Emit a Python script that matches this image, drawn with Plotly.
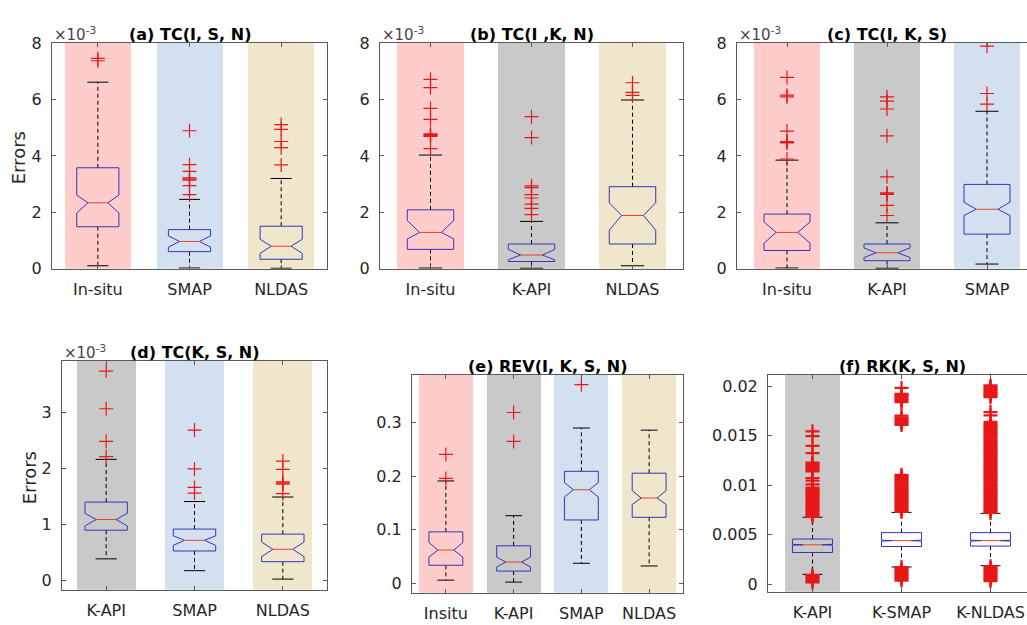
import plotly.graph_objects as go

W, H = 1027, 625

# ---------------- DATA ----------------
# (a) TC(I, S, N)   values in units of 1e-3
cats_a = ["In-situ", "SMAP", "NLDAS"]
q1_a = [1.49, 0.61, 0.34]
med_a = [2.34, 0.97, 0.80]
q3_a = [3.58, 1.39, 1.51]
nlo_a = [1.98, 0.77, 0.55]
nhi_a = [2.61, 1.17, 1.05]
wlo_a = [0.11, 0.03, 0.02]
whi_a = [6.61, 2.46, 3.20]
out_a = [[7.45, 7.37],
         [4.89, 3.69, 3.45, 3.22, 3.18, 3.14, 2.95, 2.63],
         [5.11, 4.94, 4.51, 4.29, 3.68]]

# (b) TC(I ,K, N)   values in units of 1e-3
cats_b = ["In-situ", "K-API", "NLDAS"]
q1_b = [0.69, 0.26, 0.88]
med_b = [1.29, 0.49, 1.89]
q3_b = [2.09, 0.88, 2.91]
nlo_b = [1.06, 0.32, 1.37]
nhi_b = [1.71, 0.69, 2.34]
wlo_b = [0.03, 0.02, 0.11]
whi_b = [4.03, 1.68, 5.98]
out_b = [[6.71, 6.42, 5.68, 5.29, 4.78, 4.75, 4.72, 4.69, 4.26],
         [5.39, 4.65, 2.94, 2.88, 2.63, 2.51, 2.29, 2.14, 1.92],
         [6.59, 6.25, 6.14]]

# (c) TC(I, K, S)   values in units of 1e-3
cats_c = ["In-situ", "K-API", "SMAP"]
q1_c = [0.65, 0.29, 1.23]
med_c = [1.29, 0.57, 2.11]
q3_c = [1.94, 0.88, 2.99]
nlo_c = [0.91, 0.40, 1.89]
nhi_c = [1.66, 0.74, 2.36]
wlo_c = [0.03, 0.02, 0.17]
whi_c = [3.85, 1.63, 5.58]
out_c = [[6.78, 6.15, 6.09, 4.88, 4.51, 4.48, 4.46, 3.89],
         [6.09, 5.94, 5.66, 4.71, 3.26, 2.69, 2.66, 2.64, 2.25, 1.89],
         [7.89, 6.21, 5.83]]

# (d) TC(K, S, N)   values in units of 1e-3
cats_d = ["K-API", "SMAP", "NLDAS"]
q1_d = [0.90, 0.53, 0.34]
med_d = [1.09, 0.72, 0.56]
q3_d = [1.40, 0.92, 0.83]
nlo_d = [0.975, 0.63, 0.43]
nhi_d = [1.20, 0.80, 0.69]
wlo_d = [0.39, 0.18, 0.03]
whi_d = [2.16, 1.41, 1.49]
out_d = [[3.73, 3.06, 2.48, 2.21],
         [2.68, 1.99, 1.66, 1.56],
         [2.13, 1.98, 1.76, 1.74, 1.72, 1.55]]

# (e) REV(I, K, S, N)
cats_e = ["Insitu", "K-API", "SMAP", "NLDAS"]
q1_e = [0.0333, 0.0224, 0.118, 0.123]
med_e = [0.0618, 0.0394, 0.1745, 0.159]
q3_e = [0.0958, 0.0697, 0.209, 0.2055]
nlo_e = [0.0485, 0.030, 0.161, 0.147]
nhi_e = [0.0758, 0.0485, 0.188, 0.173]
wlo_e = [0.0055, 0.0018, 0.037, 0.032]
whi_e = [0.191, 0.126, 0.290, 0.286]
out_e = [[0.2406, 0.1958], [0.319, 0.265], [0.371], []]

# (f) RK(K, S, N)   values in units of 1e-3 (converted to raw for plotting)
cats_f = ["K-API", "K-SMAP", "K-NLDAS"]
q1_f_milli = [3.19, 3.80, 3.84]
med_f_milli = [3.97, 4.39, 4.39]
q3_f_milli = [4.55, 5.20, 5.20]
nlo_f_milli = [3.92, 4.34, 4.34]
nhi_f_milli = [4.02, 4.44, 4.44]
wlo_f_milli = [0.98, 1.72, 1.85]
whi_f_milli = [6.76, 7.25, 7.15]
out_kapi_milli = [6.8, 6.95, 7.1, 7.25, 7.4, 7.55, 7.7, 7.85, 8.0, 8.15, 8.3, 8.45,
                  8.6, 8.75, 8.9, 9.05, 9.2, 9.35, 9.5, 9.6, 9.76, 10.08, 10.47, 10.73,
                  11.4, 11.55, 11.7, 11.85, 12.0, 12.15, 12.3, 13.24, 13.98, 14.96, 15.45,
                  0.16, 0.3, 0.45, 0.6, 0.75, 0.9]
out_ksmap_milli = [7.3, 7.45, 7.6, 7.75, 7.9, 8.05, 8.2, 8.35, 8.5, 8.65, 8.8, 8.95,
                   9.1, 9.25, 9.4, 9.55, 9.7, 9.85, 10.0, 10.15, 10.3, 10.45, 10.6, 10.75,
                   10.9, 11.05, 16.1, 16.25, 16.4, 16.55, 16.7, 16.85, 17.05,
                   18.4, 18.55, 18.7, 18.85, 19.0, 19.15, 19.25, 19.85,
                   0.35, 0.5, 0.65, 0.8, 0.95, 1.1, 1.25, 1.4, 1.55, 1.7]
out_knldas_milli = [7.2, 7.35, 7.5, 7.65, 7.8, 7.95, 8.1, 8.25, 8.4, 8.55, 8.7, 8.85,
                    9.0, 9.15, 9.3, 9.45, 9.6, 9.75, 9.9, 10.05, 10.2, 10.35, 10.5, 10.65,
                    10.8, 10.95, 11.1, 11.25, 11.4, 11.55, 11.7, 11.85, 12.0, 12.15, 12.3,
                    12.45, 12.6, 12.75, 12.9, 13.05, 13.2, 13.35, 13.5, 13.65, 13.8, 13.95,
                    14.1, 14.25, 14.4, 14.55, 14.7, 14.85, 15.0, 15.15, 15.3, 15.45, 15.6,
                    15.75, 15.9, 16.05, 16.2, 16.4, 17.07, 17.4,
                    18.9, 19.05, 19.2, 19.35, 19.5, 19.65, 19.8, 19.95, 20.1,
                    0.3, 0.45, 0.6, 0.75, 0.9, 1.05, 1.2, 1.35, 1.5, 1.65, 1.8]
out_f_milli = [out_kapi_milli, out_ksmap_milli, out_knldas_milli]

MILLI = 1e-3


def to_raw(lst):
    return [v * MILLI for v in lst]


# ---------------- STYLE ----------------
PINK = "rgb(255,204,204)"
BLUE = "rgb(211,224,239)"
GRAY = "rgb(201,201,201)"
TAN = "rgb(239,230,203)"
RED = "rgb(232,24,24)"
BOXC = "rgb(52,52,190)"
MEDC = "rgb(236,64,40)"
AXC = "rgb(90,90,90)"
TXT = "rgb(38,38,38)"
FONT = "DejaVu Sans"

panels = [
    dict(cats=cats_a, q1=q1_a, med=med_a, q3=q3_a, nlo=nlo_a, nhi=nhi_a, wlo=wlo_a, whi=whi_a, out=out_a,
         bg=[PINK, BLUE, TAN], title="(a) TC(I, S, N)", tc=189.5, exp=True, ylab=(18.5, 153.5),
         l=52, r=327, t=35, b=268, xr=[0.5, 3.5], yr=[0, 8], yt=[0, 2, 4, 6, 8],
         ytt=["0", "2", "4", "6", "8"], bw=0.72, hw=0.23, right=True, mw=1.2),
    dict(cats=cats_b, q1=q1_b, med=med_b, q3=q3_b, nlo=nlo_b, nhi=nhi_b, wlo=wlo_b, whi=whi_b, out=out_b,
         bg=[PINK, GRAY, TAN], title="(b) TC(I ,K, N)", tc=531.5, exp=True, ylab=None,
         l=380, r=683, t=35, b=268, xr=[0.5, 3.5], yr=[0, 8], yt=[0, 2, 4, 6, 8],
         ytt=["0", "2", "4", "6", "8"], bw=0.66, hw=0.23, right=True, mw=1.2),
    dict(cats=cats_c, q1=q1_c, med=med_c, q3=q3_c, nlo=nlo_c, nhi=nhi_c, wlo=wlo_c, whi=whi_c, out=out_c,
         bg=[PINK, GRAY, BLUE], title="(c) TC(I, K, S)", tc=887, exp=True, ylab=None,
         l=737, r=1027, t=35, b=268, xr=[0.5, 3.4], yr=[0, 8], yt=[0, 2, 4, 6, 8],
         ytt=["0", "2", "4", "6", "8"], bw=0.66, hw=0.23, right=False, mw=1.2),
    dict(cats=cats_d, q1=q1_d, med=med_d, q3=q3_d, nlo=nlo_d, nhi=nhi_d, wlo=wlo_d, whi=whi_d, out=out_d,
         bg=[GRAY, BLUE, TAN], title="(d) TC(K, S, N)", tc=195, exp=True, ylab=(29, 484),
         l=62, r=327, t=363, b=599, xr=[0.5, 3.5], yr=[-0.16, 3.91], yt=[0, 1, 2, 3],
         ytt=["0", "1", "2", "3"], bw=0.67, hw=0.24, right=True, mw=1.2),
    dict(cats=cats_e, q1=q1_e, med=med_e, q3=q3_e, nlo=nlo_e, nhi=nhi_e, wlo=wlo_e, whi=whi_e, out=out_e,
         bg=[PINK, GRAY, BLUE, TAN], title="(e) REV(I, K, S, N)", tc=547.5, exp=False, ylab=None,
         l=412, r=683, t=377, b=602, xr=[0.5, 4.5], yr=[-0.018, 0.39], yt=[0, 0.1, 0.2, 0.3],
         ytt=["0", "0.1", "0.2", "0.3"], bw=0.8, hw=0.25, right=True, mw=1.2),
    dict(cats=cats_f, q1=to_raw(q1_f_milli), med=to_raw(med_f_milli), q3=to_raw(q3_f_milli),
         nlo=to_raw(nlo_f_milli), nhi=to_raw(nhi_f_milli), wlo=to_raw(wlo_f_milli), whi=to_raw(whi_f_milli),
         out=[to_raw(o) for o in out_f_milli],
         bg=[GRAY, None, None], title="(f) RK(K, S, N)", tc=902, exp=False, ylab=None,
         l=768, r=1027, t=377, b=601, xr=[0.5, 3.41], yr=[-0.00078, 0.0212],
         yt=[0, 0.005, 0.01, 0.015, 0.02], ytt=["0", "0.005", "0.01", "0.015", "0.02"],
         bw=0.62, hw=0.225, right=False, mw=2.2),
]

fig = go.Figure()
annotations = []
layout_axes = {}

for i, p in enumerate(panels, start=1):
    xa = "x" if i == 1 else f"x{i}"
    ya = "y" if i == 1 else f"y{i}"
    n = len(p["cats"])
    pos = list(range(1, n + 1))
    ylo, yhi = p["yr"]

    # background bars
    bx = [pos[j] for j in range(n) if p["bg"][j]]
    bc = [p["bg"][j] for j in range(n) if p["bg"][j]]
    fig.add_trace(go.Bar(x=bx, y=[yhi - ylo] * len(bx), base=ylo, width=p["bw"],
                         marker=dict(color=bc, line=dict(width=0)),
                         xaxis=xa, yaxis=ya, hoverinfo="skip", showlegend=False))

    w = p["hw"]
    wn = w * 0.47
    wc = w * 0.5
    for j in range(n):
        c = pos[j]
        q1, med, q3 = p["q1"][j], p["med"][j], p["q3"][j]
        nlo, nhi = p["nlo"][j], p["nhi"][j]
        lo, hi = p["wlo"][j], p["whi"][j]
        # whiskers (dashed)
        fig.add_trace(go.Scatter(x=[c, c, None, c, c], y=[q3, hi, None, q1, lo], mode="lines",
                                 line=dict(color="black", width=1, dash="4px,3px"),
                                 xaxis=xa, yaxis=ya, hoverinfo="skip", showlegend=False))
        # caps
        fig.add_trace(go.Scatter(x=[c - wc, c + wc, None, c - wc, c + wc], y=[hi, hi, None, lo, lo],
                                 mode="lines", line=dict(color="black", width=1),
                                 xaxis=xa, yaxis=ya, hoverinfo="skip", showlegend=False))
        # notched box
        fig.add_trace(go.Scatter(
            x=[c - w, c - w, c - wn, c - w, c - w, c + w, c + w, c + wn, c + w, c + w, c - w],
            y=[q1, nlo, med, nhi, q3, q3, nhi, med, nlo, q1, q1],
            mode="lines", line=dict(color=BOXC, width=1),
            xaxis=xa, yaxis=ya, hoverinfo="skip", showlegend=False))
        # median
        fig.add_trace(go.Scatter(x=[c - wn, c + wn], y=[med, med], mode="lines",
                                 line=dict(color=MEDC, width=1),
                                 xaxis=xa, yaxis=ya, hoverinfo="skip", showlegend=False))
        # outliers
        if p["out"][j]:
            fig.add_trace(go.Scatter(x=[c] * len(p["out"][j]), y=p["out"][j], mode="markers",
                                     marker=dict(symbol="cross-thin", size=10, color=RED,
                                                 line=dict(color=RED, width=p["mw"])),
                                     xaxis=xa, yaxis=ya, hoverinfo="skip", showlegend=False))

    xdom = [p["l"] / W, p["r"] / W]
    ydom = [(H - p["b"]) / H, (H - p["t"]) / H]
    xkey = "xaxis" if i == 1 else f"xaxis{i}"
    ykey = "yaxis" if i == 1 else f"yaxis{i}"
    layout_axes[xkey] = dict(domain=xdom, range=p["xr"], anchor=ya, tickmode="array",
                             tickvals=pos, ticktext=p["cats"], ticks="inside", ticklen=4,
                             tickcolor=AXC, showline=True, linecolor=AXC, linewidth=1,
                             mirror="ticks", showgrid=False, zeroline=False,
                             tickfont=dict(family=FONT, size=16, color=TXT),
                             ticklabelstandoff=6, fixedrange=True)
    layout_axes[ykey] = dict(domain=ydom, range=p["yr"], anchor=xa, tickmode="array",
                             tickvals=p["yt"], ticktext=p["ytt"], ticks="inside", ticklen=4,
                             tickcolor=AXC, showline=True, linecolor=AXC, linewidth=1,
                             mirror="ticks" if p["right"] else False, showgrid=False, zeroline=False,
                             tickfont=dict(family=FONT, size=16, color=TXT),
                             ticklabelstandoff=6, fixedrange=True)

    annotations.append(dict(text="<b>" + p["title"] + "</b>", x=p["tc"] / W, y=(H - p["t"]) / H,
                            xref="paper", yref="paper", xanchor="center", yanchor="bottom",
                            yshift=-3, showarrow=False,
                            font=dict(family=FONT, size=16, color="black")))
    if p["exp"]:
        annotations.append(dict(text="\u00d710<sup>-3</sup>", x=p["l"] / W, y=(H - p["t"]) / H,
                                xref="paper", yref="paper", xanchor="left", yanchor="bottom",
                                yshift=-3, showarrow=False,
                                font=dict(family=FONT, size=15, color="rgb(70,70,70)")))
    if p["ylab"]:
        annotations.append(dict(text="Errors", x=p["ylab"][0] / W, y=(H - p["ylab"][1]) / H,
                                xref="paper", yref="paper", xanchor="center", yanchor="middle",
                                textangle=-90, showarrow=False,
                                font=dict(family=FONT, size=18, color=TXT)))

fig.update_layout(width=W, height=H, margin=dict(l=0, r=0, t=0, b=0),
                  paper_bgcolor="white", plot_bgcolor="white", showlegend=False,
                  bargap=0, annotations=annotations, **layout_axes)

fig.write_html("out.html", config={"displayModeBar": False})
